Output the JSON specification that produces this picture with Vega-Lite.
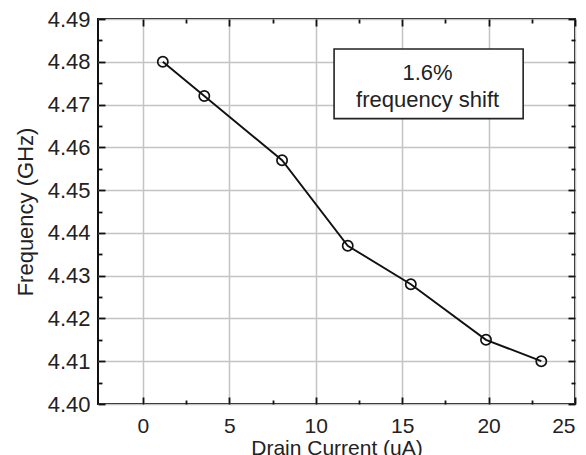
{
  "$schema": "https://vega.github.io/schema/vega-lite/v6.json",
  "width": 477,
  "height": 385,
  "autosize": {"type": "none"},
  "padding": {"left": 98, "top": 19, "right": 11, "bottom": 51},
  "background": "white",
  "config": {
    "view": {"stroke": "#111", "strokeWidth": 2},
    "font": "Liberation Sans",
    "axis": {
      "domain": false,
      "labelFont": "Liberation Sans",
      "titleFont": "Liberation Sans",
      "labelColor": "#222",
      "titleColor": "#222",
      "titleFontWeight": "normal",
      "gridColor": "#c4c4c4",
      "gridWidth": 1.5,
      "tickColor": "#111",
      "tickWidth": 1.8
    }
  },
  "datasets": {
    "pts": [
      {"current": 1.15, "freq": 4.480},
      {"current": 3.55, "freq": 4.472},
      {"current": 8.05, "freq": 4.457},
      {"current": 11.85, "freq": 4.437},
      {"current": 15.5, "freq": 4.428},
      {"current": 19.85, "freq": 4.415},
      {"current": 23.05, "freq": 4.410}
    ],
    "box": [{"x1": 11.06, "x2": 22.0, "y1": 4.4667, "y2": 4.483}],
    "lbl": [
      {"x": 16.47, "y": 4.4774, "t": "1.6%"},
      {"x": 16.47, "y": 4.4710, "t": "frequency shift"}
    ]
  },
  "resolve": {"axis": {"x": "independent", "y": "independent"}},
  "layer": [
    {
      "data": {"name": "pts"},
      "mark": {"type": "line", "color": "#111", "strokeWidth": 1.9},
      "encoding": {
        "x": {
          "field": "current", "type": "quantitative",
          "scale": {"domain": [-2.6, 25], "nice": false, "zero": false},
          "axis": {"orient": "bottom", "values": [0, 5, 10, 15, 20, 25], "ticks": false, "grid": true,
                   "labelFontSize": 21, "labelPadding": 11, "title": "Drain Current (uA)", "titleFontSize": 21, "titlePadding": 1}
        },
        "y": {
          "field": "freq", "type": "quantitative",
          "scale": {"domain": [4.40, 4.49], "nice": false, "zero": false},
          "axis": {"orient": "left", "values": [4.40, 4.41, 4.42, 4.43, 4.44, 4.45, 4.46, 4.47, 4.48, 4.49], "format": ".2f", "ticks": false, "grid": true,
                   "labelFontSize": 22, "labelPadding": 8, "title": "Frequency (GHz)", "titleFontSize": 22, "titlePadding": 10}
        }
      }
    },
    {
      "data": {"name": "pts"},
      "mark": {"type": "point", "shape": "circle", "size": 105, "filled": false, "stroke": "#111", "strokeWidth": 1.7, "opacity": 1},
      "encoding": {
        "x": {"field": "current", "type": "quantitative", "scale": {"domain": [-2.6, 25], "nice": false, "zero": false},
              "axis": {"orient": "bottom", "values": [0, 5, 10, 15, 20, 25], "labels": false, "grid": false, "tickSize": -7, "title": null}},
        "y": {"field": "freq", "type": "quantitative", "scale": {"domain": [4.40, 4.49], "nice": false, "zero": false},
              "axis": {"orient": "left", "values": [4.40, 4.41, 4.42, 4.43, 4.44, 4.45, 4.46, 4.47, 4.48, 4.49], "labels": false, "grid": false, "tickSize": -7, "title": null}}
      }
    },
    {
      "data": {"name": "box"},
      "mark": {"type": "rect", "fill": "white", "stroke": "#222", "strokeWidth": 1.6},
      "encoding": {
        "x": {"field": "x1", "type": "quantitative", "scale": {"domain": [-2.6, 25], "nice": false, "zero": false},
              "axis": {"orient": "bottom", "values": [2.5, 7.5, 12.5, 17.5, 22.5], "labels": false, "grid": false, "tickSize": -4, "title": null}},
        "x2": {"field": "x2"},
        "y": {"field": "y1", "type": "quantitative", "scale": {"domain": [4.40, 4.49], "nice": false, "zero": false},
              "axis": {"orient": "left", "values": [4.405, 4.415, 4.425, 4.435, 4.445, 4.455, 4.465, 4.475, 4.485], "labels": false, "grid": false, "tickSize": -4, "title": null}},
        "y2": {"field": "y2"}
      }
    },
    {
      "data": {"name": "lbl"},
      "mark": {"type": "text", "font": "Liberation Sans", "fontSize": 22, "color": "#222", "align": "center", "baseline": "middle"},
      "encoding": {
        "x": {"field": "x", "type": "quantitative", "scale": {"domain": [-2.6, 25], "nice": false, "zero": false},
              "axis": {"orient": "top", "values": [0, 5, 10, 15, 20, 25], "labels": false, "grid": false, "tickSize": -7, "title": null}},
        "y": {"field": "y", "type": "quantitative", "scale": {"domain": [4.40, 4.49], "nice": false, "zero": false},
              "axis": {"orient": "right", "values": [4.40, 4.41, 4.42, 4.43, 4.44, 4.45, 4.46, 4.47, 4.48, 4.49], "labels": false, "grid": false, "tickSize": -7, "title": null}},
        "text": {"field": "t"}
      }
    },
    {
      "data": {"name": "pts"},
      "mark": {"type": "point", "opacity": 0},
      "encoding": {
        "x": {"field": "current", "type": "quantitative", "scale": {"domain": [-2.6, 25], "nice": false, "zero": false},
              "axis": {"orient": "top", "values": [2.5, 7.5, 12.5, 17.5, 22.5], "labels": false, "grid": false, "tickSize": -4, "title": null}},
        "y": {"field": "freq", "type": "quantitative", "scale": {"domain": [4.40, 4.49], "nice": false, "zero": false},
              "axis": {"orient": "right", "values": [4.405, 4.415, 4.425, 4.435, 4.445, 4.455, 4.465, 4.475, 4.485], "labels": false, "grid": false, "tickSize": -4, "title": null}}
      }
    }
  ]
}
